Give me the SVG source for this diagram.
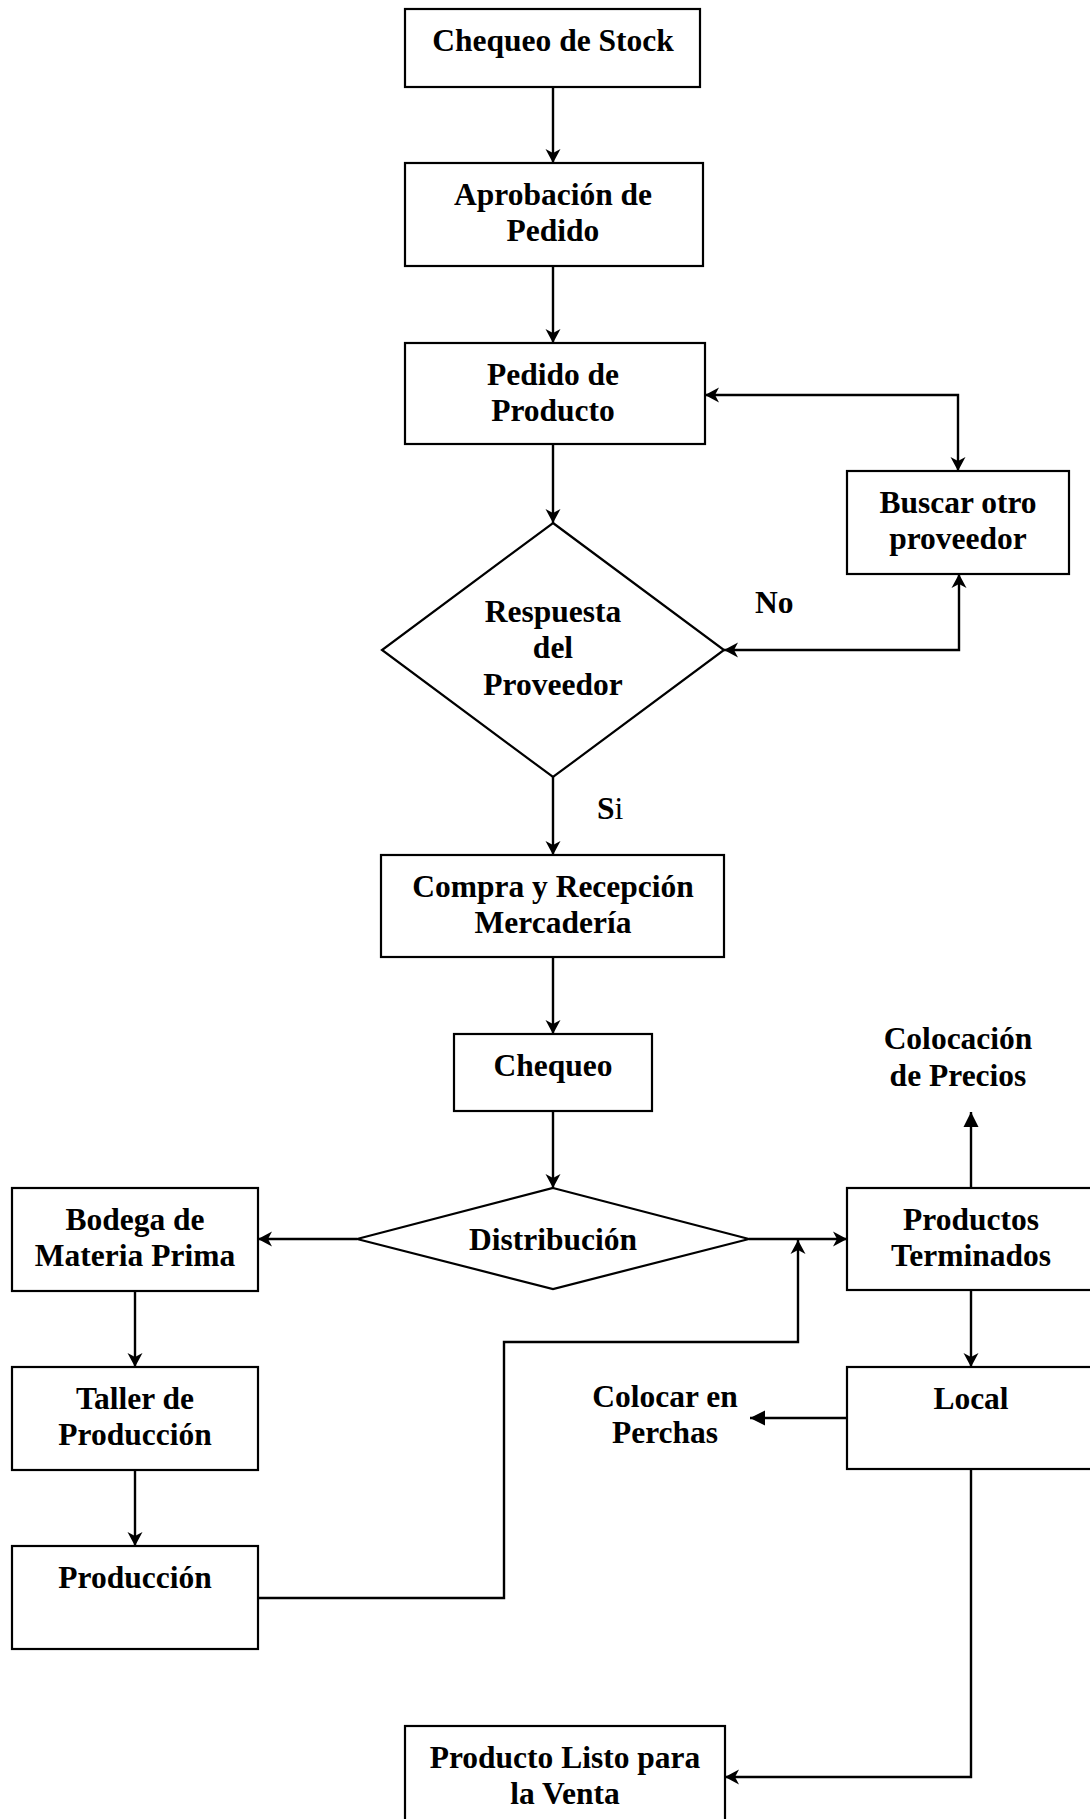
<svg xmlns="http://www.w3.org/2000/svg" width="1090" height="1819" viewBox="0 0 1090 1819">
<style>
.b{fill:#fff;stroke:#000;stroke-width:2.2}
.t{font-family:"Liberation Serif","Times New Roman",serif;font-weight:bold;font-size:31.5px;fill:#000;text-anchor:middle}
.c{fill:none;stroke:#000;stroke-width:2.4}
.a{marker-end:url(#st)}
.ab{marker-start:url(#st);marker-end:url(#st)}
.f{marker-end:url(#tr)}
</style>
<defs>
<marker id="st" viewBox="-16 -9 17 18" refX="0" refY="0" markerWidth="17" markerHeight="18" markerUnits="userSpaceOnUse" orient="auto-start-reverse">
<path d="M0,0 L-14,-7.5 L-10,0 L-14,7.5 Z" fill="#000"/>
</marker>
<marker id="tr" viewBox="-16 -9 17 18" refX="0" refY="0" markerWidth="17" markerHeight="18" markerUnits="userSpaceOnUse" orient="auto">
<path d="M0,0 L-15,-7.5 L-15,7.5 Z" fill="#000"/>
</marker>
</defs>
<rect x="0" y="0" width="1090" height="1819" fill="#fff"/>
<g id="connectors">
<path class="c a" d="M553,87 V163"/>
<path class="c a" d="M553,266 V343"/>
<path class="c a" d="M553,444 V523"/>
<path class="c ab" d="M958,471 V395 H705"/>
<path class="c ab" d="M959,574 V650 H724"/>
<path class="c a" d="M553,777 V855"/>
<path class="c a" d="M553,957 V1034"/>
<path class="c a" d="M553,1111 V1188"/>
<path class="c a" d="M357,1239 H258"/>
<path class="c a" d="M749,1239 H847"/>
<path class="c a" d="M135,1291 V1367"/>
<path class="c a" d="M135,1470 V1546"/>
<path class="c a" d="M258,1598 H504 V1342 H798 V1240"/>
<path class="c f" d="M971,1188 V1112"/>
<path class="c a" d="M971,1290 V1367"/>
<path class="c f" d="M847,1418 H750"/>
<path class="c a" d="M971,1469 V1777 H725"/>
</g>
<g id="n1"><rect class="b" x="405" y="9" width="295" height="78"/><text class="t" x="553" y="51">Chequeo de Stock</text></g>
<g id="n2"><rect class="b" x="405" y="163" width="298" height="103"/><text class="t" x="553" y="205">Aprobación de</text><text class="t" x="553" y="241">Pedido</text></g>
<g id="n3"><rect class="b" x="405" y="343" width="300" height="101"/><text class="t" x="553" y="385">Pedido de</text><text class="t" x="553" y="421">Producto</text></g>
<g id="n4"><rect class="b" x="847" y="471" width="222" height="103"/><text class="t" x="958" y="513">Buscar otro</text><text class="t" x="958" y="549">proveedor</text></g>
<g id="n5"><polygon class="b" points="553,523 724,650 553,777 382,650"/><text class="t" x="553" y="622">Respuesta</text><text class="t" x="553" y="658">del</text><text class="t" x="553" y="695">Proveedor</text></g>
<g id="n6"><rect class="b" x="381" y="855" width="343" height="102"/><text class="t" x="553" y="897">Compra y Recepción</text><text class="t" x="553" y="933">Mercadería</text></g>
<g id="n7"><rect class="b" x="454" y="1034" width="198" height="77"/><text class="t" x="553" y="1076">Chequeo</text></g>
<g id="n8"><polygon class="b" points="553,1188 749,1239 553,1289 357,1239"/><text class="t" x="553" y="1250">Distribución</text></g>
<g id="n9"><rect class="b" x="12" y="1188" width="246" height="103"/><text class="t" x="135" y="1230">Bodega de</text><text class="t" x="135" y="1266">Materia Prima</text></g>
<g id="n10"><rect class="b" x="847" y="1188" width="250" height="102"/><text class="t" x="971" y="1230">Productos</text><text class="t" x="971" y="1266">Terminados</text></g>
<g id="n11"><text class="t" x="958" y="1049">Colocación</text><text class="t" x="958" y="1086">de Precios</text></g>
<g id="n12"><rect class="b" x="12" y="1367" width="246" height="103"/><text class="t" x="135" y="1409">Taller de</text><text class="t" x="135" y="1445">Producción</text></g>
<g id="n13"><rect class="b" x="847" y="1367" width="250" height="102"/><text class="t" x="971" y="1409">Local</text></g>
<g id="n14"><text class="t" x="665" y="1407">Colocar en</text><text class="t" x="665" y="1443">Perchas</text></g>
<g id="n15"><rect class="b" x="12" y="1546" width="246" height="103"/><text class="t" x="135" y="1588">Producción</text></g>
<g id="n16"><rect class="b" x="405" y="1726" width="320" height="100"/><text class="t" x="565" y="1768">Producto Listo para</text><text class="t" x="565" y="1804">la Venta</text></g>
<g id="labels">
<text class="t" x="755" y="613" style="text-anchor:start">No</text>
<text class="t" x="597" y="819" style="text-anchor:start">S<tspan style="font-weight:normal">i</tspan></text>
</g>
</svg>
